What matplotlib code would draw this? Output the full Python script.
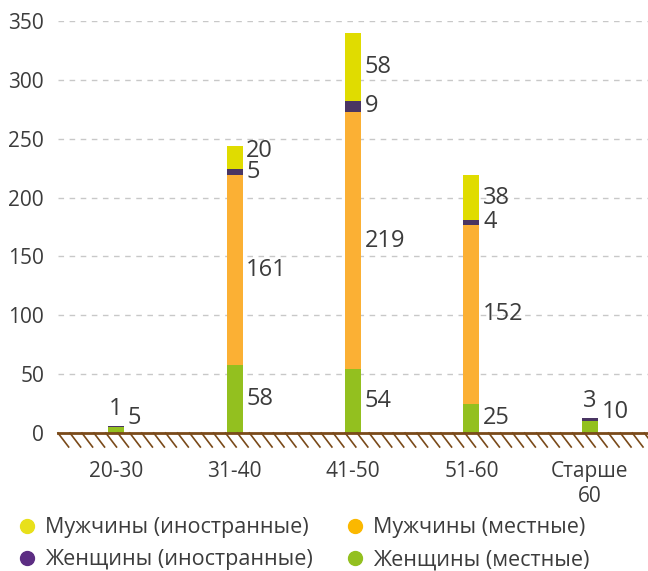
import numpy as np
import matplotlib
matplotlib.use("Agg")
import matplotlib.pyplot as plt
from matplotlib.lines import Line2D

plt.rcParams['font.family'] = ['Open Sans', 'DejaVu Sans']

groups = ['20-30', '31-40', '41-50', '51-60', 'Старше\n60']
women_local = [5, 58, 54, 25, 10]
men_local = [0, 161, 219, 152, 0]
women_foreign = [1, 5, 9, 4, 3]
men_foreign = [0, 20, 58, 38, 0]

series = [
    ('Женщины (местные)', women_local, '#93c01f', '#93c01f'),
    ('Мужчины (местные)', men_local, '#fbb034', '#fbb800'),
    ('Женщины (иностранные)', women_foreign, '#4a3562', '#5c2d83'),
    ('Мужчины (иностранные)', men_foreign, '#e0dc00', '#e8e01a'),
]

text_col = '#3c3c3c'
fig = plt.figure(figsize=(6.48, 5.71), dpi=100)
ax = fig.add_axes([0.0895, 0.2417, 0.9105, 0.7213])

x = np.arange(len(groups))
w = 0.135
bottom = np.zeros(len(groups))
last_label = np.full(len(groups), -100.0)
for name, vals, col, _ in series:
    vals = np.array(vals, dtype=float)
    ax.bar(x, vals, w, bottom=bottom, color=col, zorder=3)
    for i, v in enumerate(vals):
        if v == 0:
            continue
        mid = bottom[i] + v / 2
        if name == 'Женщины (иностранные)' and men_local[i] == 0:
            # small bars: label sits on top
            ax.text(x[i], bottom[i] + v + 4, f'{int(v)}', ha='center', va='bottom',
                    fontsize=17, color=text_col)
            continue
        if men_local[i] == 0:
            mid = bottom[i] + v + 8
        mid = max(mid, last_label[i] + 18.5)
        last_label[i] = mid
        ax.text(x[i] + w / 2 + 0.03, mid, f'{int(v)}', ha='left', va='center',
                fontsize=17, color=text_col)
    bottom += vals

ax.set_xlim(-0.49, 4.49)
ax.set_ylim(0, 350)
ax.set_yticks(np.arange(0, 351, 50))
ax.set_xticks(x)
ax.set_xticklabels(groups, fontsize=15, color=text_col, linespacing=1.25)
ax.tick_params(axis='y', labelsize=15, labelcolor=text_col, length=0, pad=10)
ax.tick_params(axis='x', length=0, pad=20)
for s in ax.spines.values():
    s.set_visible(False)
ax.grid(axis='y', color='#c8c8c8', linestyle=(0, (4, 4)), linewidth=1, zorder=0)

# hatched ground line
brown = '#7a4a1a'
ax.axhline(0, color=brown, linewidth=2, zorder=4, clip_on=False)
trans = ax.get_xaxis_transform()
step = 0.101
dy = 14 / 412
for x0 in np.arange(-0.49, 4.49, step):
    ax.plot([x0, x0 + 0.09], [0, -dy], color=brown, linewidth=1.2,
            transform=trans, clip_on=False, zorder=4)

handles = [Line2D([], [], marker='o', linestyle='none', markersize=10,
                  markerfacecolor=series[k][3], markeredgecolor=series[k][3])
           for k in [3, 2, 1, 0]]
labels = [series[k][0] for k in [3, 2, 1, 0]]
fig.legend(handles, labels, ncol=2, loc='lower left', bbox_to_anchor=(-0.008, -0.033),
           frameon=False, fontsize=15.5, handletextpad=0.25, columnspacing=1.35,
           labelspacing=0.52, labelcolor=text_col, handlelength=1.2)

fig.savefig('out.png', dpi=100)
